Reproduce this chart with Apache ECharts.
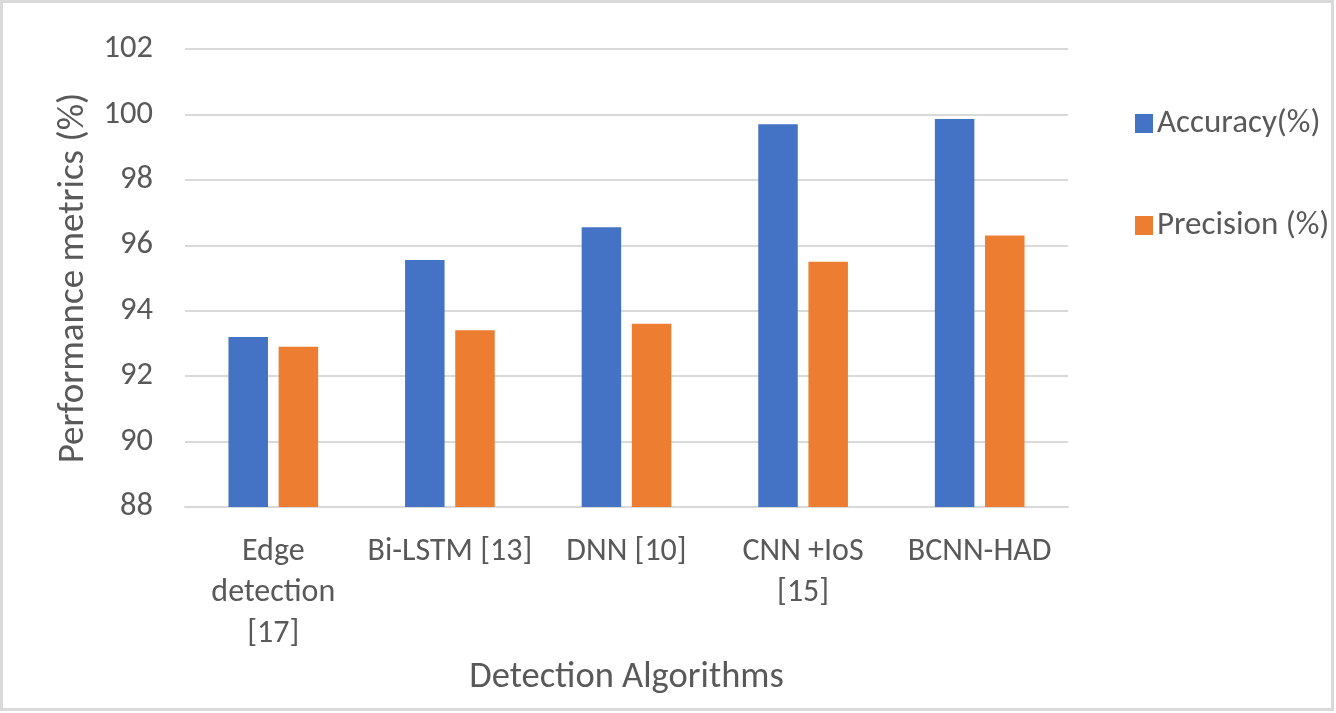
<!DOCTYPE html>
<html>
<head>
<meta charset="utf-8">
<script src="https://cdn.jsdelivr.net/npm/echarts@6/dist/echarts.min.js"></script>
<style>
html,body{margin:0;padding:0;background:#fff;}
#chart{width:1336px;height:713px;}
</style>
</head>
<body>
<div id="chart"></div>
<script>
const categories = ['Edge\ndetection\n[17]', 'Bi-LSTM [13]', 'DNN [10]', 'CNN +IoS\n[15]', 'BCNN-HAD'];
const accuracy = [93.2, 95.55, 96.55, 99.7, 99.86];
const precision = [92.9, 93.4, 93.6, 95.5, 96.3];
const yTicks = {min: 88, max: 102, interval: 2};

const FONT = 'Carlito, Lato, sans-serif';
const TXT = '#595959';
const chart = echarts.init(document.getElementById('chart'));
chart.setOption({
  animation: false,
  backgroundColor: '#fff',
  textStyle: {fontFamily: FONT},
  graphic: [{
    type: 'rect', z: -1,
    shape: {x: 1.5, y: 1.5, width: 1331, height: 708},
    style: {fill: 'none', stroke: '#d9d9d9', lineWidth: 3}
  }],
  grid: {left: 185, right: 268, top: 49, bottom: 206},
  legend: {
    orient: 'vertical', left: 1130, top: 102,
    itemWidth: 18, itemHeight: 19, itemGap: 69,
    icon: 'rect',
    textStyle: {fontFamily: FONT, fontSize: 33, color: TXT, padding: [0,0,0,-1]},
    data: ['Accuracy(%)', 'Precision (%)']
  },
  xAxis: {
    type: 'category', data: categories,
    name: 'Detection Algorithms', nameLocation: 'middle', nameGap: 150,
    nameTextStyle: {fontFamily: FONT, fontSize: 36.5, color: TXT, verticalAlign: 'top'},
    axisLine: {lineStyle: {color: '#d9d9d9', width: 2}},
    axisTick: {show: false},
    axisLabel: {fontFamily: FONT, fontSize: 32, color: TXT, margin: 24, lineHeight: 41, interval: 0}
  },
  yAxis: {
    type: 'value', min: yTicks.min, max: yTicks.max, interval: yTicks.interval,
    name: 'Performance metrics (%)', nameLocation: 'middle', nameGap: 92,
    nameTextStyle: {fontFamily: FONT, fontSize: 37, color: TXT},
    axisLine: {show: false}, axisTick: {show: false},
    axisLabel: {fontFamily: FONT, fontSize: 32.5, color: TXT, margin: 32},
    splitLine: {lineStyle: {color: '#d9d9d9', width: 2}}
  },
  series: [
    {name: 'Accuracy(%)', type: 'bar', data: accuracy, barWidth: 39.5, barGap: '27%',
     itemStyle: {color: '#4472C4'}},
    {name: 'Precision (%)', type: 'bar', data: precision, barWidth: 39.5, barGap: '27%',
     itemStyle: {color: '#ED7D31'}}
  ]
});
</script>
</body>
</html>
